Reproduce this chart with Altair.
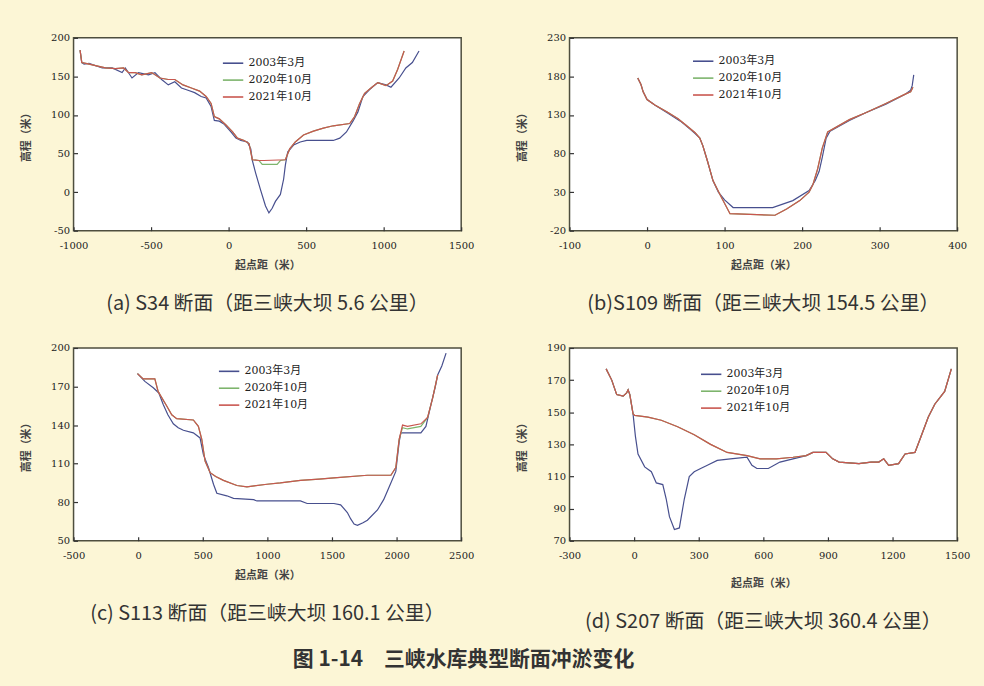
import altair as alt
import pandas as pd

SERIES = ["2003年3月", "2020年10月", "2021年10月"]
COLORS = ["#474f8e", "#7db46c", "#c9564f"]

# ---------------- (a) S34 ----------------
a03_x = [-958, -947, -932, -900, -815, -751, -687, -666, -623, -581, -517, -475, -432, -389, -347, -304,
         -262, -219, -177, -145, -113, -92, -60, -28, 15, 47, 79, 121, 143, 153, 174, 206, 238, 260, 281,
         302, 334, 355, 366, 381, 419, 462, 504, 675, 717, 760, 802, 834, 866, 909, 962, 1015, 1047,
         1100, 1143, 1185, 1228]
a03_y = [184, 168, 166, 167, 161, 161, 155, 161, 148, 155, 152, 155, 146, 139, 143, 135,
         132, 129, 124, 122, 111, 93, 92, 88, 78, 70, 67, 65, 56, 41, 25, 3, -18, -27, -21,
         -12, -3, 17, 35, 52, 61, 65, 67, 67, 70, 78, 92, 104, 124, 133, 142, 139, 136,
         148, 161, 168, 183]
a20_x = [-958, -947, -921, -858, -794, -730, -677, -645, -602, -560, -496, -443, -389, -347, -294, -240,
         -187, -145, -113, -92, -60, -17, 26, 57, 100, 132, 153, 196, 217, 313, 334, 366, 394, 430,
         483, 547, 611, 675, 781, 813, 845, 877, 930, 962, 1015, 1058, 1090, 1132]
a20_y = [184, 168, 167, 164, 161, 160, 161, 155, 155, 152, 155, 148, 146, 146, 139, 135,
         131, 124, 115, 98, 95, 87, 78, 70, 67, 63, 42, 41, 36, 36, 41, 42, 56, 65,
         74, 79, 83, 86, 89, 98, 115, 128, 137, 142, 138, 144, 159, 183]
a21_x = [-958, -947, -921, -858, -794, -730, -677, -645, -602, -560, -496, -443, -389, -347, -294, -240,
         -187, -145, -113, -92, -60, -17, 26, 57, 100, 132, 153, 196, 228, 366, 394, 430,
         483, 547, 611, 675, 781, 813, 845, 877, 930, 962, 1015, 1058, 1090, 1132]
a21_y = [184, 168, 167, 164, 161, 160, 161, 155, 155, 152, 155, 148, 146, 146, 139, 135,
         131, 124, 115, 98, 95, 87, 78, 70, 67, 63, 42, 41, 41, 42, 56, 65,
         74, 79, 83, 86, 89, 98, 115, 128, 137, 142, 138, 144, 159, 183]

# ---------------- (b) S109 ----------------
b03_x = [-12, -8, -5, 0, 10, 26, 43, 55, 62, 68, 72, 78, 85, 92, 100, 111, 162, 188, 209, 217, 222,
         226, 231, 236, 261, 282, 308, 333, 340, 342, 344]
b03_y = [178, 170, 160, 150, 143, 133, 122, 112, 106, 100, 90, 70, 45, 30, 20, 10, 10, 19, 32, 45, 57,
         75, 100, 109, 123, 133, 144, 157, 162, 168, 182]
b20_x = [-12, -8, -5, 0, 10, 26, 40, 50, 62, 68, 72, 78, 85, 95, 107, 165, 180, 197, 209, 214, 220,
         226, 233, 261, 282, 308, 333, 340, 343]
b20_y = [178, 170, 160, 150, 143, 134, 125, 117, 107, 100, 90, 70, 45, 25, 2, 0, 8, 19, 30, 40, 60,
         87, 108, 124, 133, 145, 157, 160, 166]
b21_x = [-12, -8, -5, 0, 10, 26, 40, 50, 62, 68, 72, 78, 85, 95, 107, 165, 180, 197, 209, 214, 220,
         226, 233, 261, 282, 308, 333, 340, 343]
b21_y = [178, 170, 160, 150, 143, 134, 125, 117, 107, 100, 90, 70, 45, 25, 2, 0, 8, 19, 30, 40, 60,
         87, 108, 124, 133, 145, 157, 160, 166]

# ---------------- (c) S113 ----------------
c03_x = [-5, 52, 117, 160, 194, 230, 272, 310, 350, 427, 479, 505, 544, 583, 609, 686, 738, 894, 920,
         1256, 1308, 1515, 1567, 1619, 1645, 1671, 1697, 1740, 1774, 1852, 1900, 1930, 1994, 2020,
         2033, 2188, 2227, 2266, 2300, 2318, 2350, 2383]
c03_y = [180, 174, 169, 165, 156, 148, 141, 138, 136, 134, 130, 117, 107, 94, 87, 85, 83, 82, 81,
         81, 79, 79, 78, 72, 67, 63, 62, 64, 66, 74, 82, 89, 104, 127,
         134, 134, 139, 156, 170, 179, 186, 196]
c20_x = [-5, 39, 129, 155, 220, 260, 298, 427, 466, 492, 518, 557, 600, 660, 764, 842, 997, 1100,
         1256, 1400, 1515, 1774, 1956, 1994, 2020, 2046, 2085, 2188, 2240, 2279, 2318]
c20_y = [180, 176, 176, 166, 155, 148, 145, 144, 139, 129, 112, 103, 100, 97, 93, 92, 94, 95,
         97, 98, 99, 101, 101, 107, 129, 138, 137, 139, 146, 161, 179]
c21_x = [-5, 39, 129, 155, 220, 260, 298, 427, 466, 492, 518, 557, 600, 660, 764, 842, 997, 1100,
         1256, 1400, 1515, 1774, 1956, 1994, 2020, 2046, 2085, 2188, 2240, 2279, 2318]
c21_y = [180, 176, 176, 166, 155, 148, 145, 144, 139, 129, 112, 103, 100, 97, 93, 92, 94, 95,
         97, 98, 99, 101, 101, 107, 129, 140, 139, 141, 146, 161, 179]

# ---------------- (d) S207 ----------------
d03_x = [-130, -104, -81, -51, -35, -28, -20, -5, 6, 18, 49, 80, 103, 133, 149, 164, 187, 210, 233,
         256, 279, 309, 340, 386, 447, 524, 547, 570, 623, 677, 738, 799, 830, 891, 922, 952, 1044,
         1100, 1136, 1159, 1182, 1228, 1258, 1304, 1327, 1366, 1396, 1442, 1473]
d03_y = [177, 170, 161, 160, 162, 164, 161, 149, 135, 124, 116, 113, 106, 105, 96, 85, 77, 78, 96,
         110, 113, 115, 117, 120, 121, 122, 117, 115, 115, 119, 121, 123, 125, 125, 121, 119, 118,
         119, 119, 121, 117, 118, 124, 125, 133, 147, 155, 163, 177]
d20_x = [-130, -104, -81, -51, -35, -28, -20, -5, 3, 64, 126, 202, 279, 355, 432, 524, 585, 661, 738,
         799, 830, 891, 922, 952, 1044, 1100, 1136, 1159, 1182, 1228, 1258, 1304, 1327, 1366, 1396,
         1442, 1473]
d20_y = [177, 170, 161, 160, 162, 164, 161, 149, 148, 147, 145, 141, 136, 130, 125, 123, 121, 121, 122,
         123, 125, 125, 121, 119, 118, 119, 119, 121, 117, 118, 124, 125, 133, 147, 155,
         163, 177]
d21_x = [-130, -104, -81, -51, -35, -28, -20, -5, 3, 64, 126, 202, 279, 355, 432, 524, 585, 661, 738,
         799, 830, 891, 922, 952, 1044, 1100, 1136, 1159, 1182, 1228, 1258, 1304, 1327, 1366, 1396,
         1442, 1473]
d21_y = [177, 170, 161, 160, 162, 164, 161, 149, 148, 147, 145, 141, 136, 130, 125, 123, 121, 121, 122,
         123, 125, 125, 121, 119, 118, 119, 119, 121, 117, 118, 124, 125, 133, 147, 155,
         163, 177]

CAPTIONS = [
    "(a) S34 断面（距三峡大坝 5.6 公里）",
    "(b)S109 断面（距三峡大坝 154.5 公里）",
    "(c) S113 断面（距三峡大坝 160.1 公里）",
    "(d) S207 断面（距三峡大坝 360.4 公里）",
]
MAIN_TITLE = "图 1-14　三峡水库典型断面冲淤变化"

SERIF = "DejaVu Serif, Liberation Serif, serif"
LEGEND_FONT = "DejaVu Serif, Noto Sans CJK SC"
SANS = "Noto Sans CJK SC"
W, H = 390, 194
HYPHEN_LABEL = "replace(datum.label, '\u2212', '-')"


def panel(series_xy, xdom, xticks, ydom, yticks, caption, lx, ly, xtpad):
    rows = []
    for name, (xs, ys) in zip(SERIES, series_xy):
        for i, (x, y) in enumerate(zip(xs, ys)):
            rows.append({"series": name, "x": x, "y": y, "i": i})
    df = pd.DataFrame(rows)
    return alt.Chart(df).mark_line(strokeWidth=1.2).encode(
        x=alt.X("x:Q", scale=alt.Scale(domain=xdom, nice=False, zero=False),
                axis=alt.Axis(values=xticks, title="起点距（米）", format="d",
                              labelExpr=HYPHEN_LABEL,
                              offset=-4, tickSize=4, labelPadding=10,
                              titlePadding=xtpad)),
        y=alt.Y("y:Q", scale=alt.Scale(domain=ydom, nice=False, zero=False),
                axis=alt.Axis(values=yticks, title="高程（米）", format="d",
                              labelExpr=HYPHEN_LABEL,
                              offset=-4, tickSize=4, labelPadding=4,
                              titleX=-46, titleY=H / 2)),
        color=alt.Color("series:N", scale=alt.Scale(domain=SERIES, range=COLORS),
                        legend=alt.Legend(title=None, orient="none", legendX=lx, legendY=ly,
                                          symbolType="stroke", symbolSize=420,
                                          symbolStrokeWidth=1.6, labelFont=LEGEND_FONT,
                                          labelFontSize=11, labelColor="#222",
                                          rowPadding=0, padding=0)),
        order="i:Q",
    ).properties(
        width=W, height=H,
        title=alt.TitleParams(caption, orient="bottom", font=SANS, fontSize=20,
                              fontWeight="normal", color="#333", offset=24),
    )


pa = panel([(a03_x, a03_y), (a20_x, a20_y), (a21_x, a21_y)], [-1000, 1500],
           [-1000, -500, 0, 500, 1000, 1500], [-50, 200], [-50, 0, 50, 100, 150, 200],
           CAPTIONS[0], 149, 14, 9)
pb = panel([(b03_x, b03_y), (b20_x, b20_y), (b21_x, b21_y)], [-100, 400],
           [-100, 0, 100, 200, 300, 400], [-20, 230], [-20, 30, 80, 130, 180, 230],
           CAPTIONS[1], 123, 12, 9)
pc = panel([(c03_x, c03_y), (c20_x, c20_y), (c21_x, c21_y)], [-500, 2500],
           [-500, 0, 500, 1000, 1500, 2000, 2500], [50, 200], [50, 80, 110, 140, 170, 200],
           CAPTIONS[2], 145, 12, 9)
pd_ = panel([(d03_x, d03_y), (d20_x, d20_y), (d21_x, d21_y)], [-300, 1500],
            [-300, 0, 300, 600, 900, 1200, 1500], [70, 190], [70, 90, 110, 130, 150, 170, 190],
            CAPTIONS[3], 131, 15, 17)

row1 = alt.hconcat(pa, pb, spacing=41).resolve_scale(color="independent").resolve_legend(color="independent")
row2 = alt.hconcat(pc, pd_, spacing=41).resolve_scale(color="independent").resolve_legend(color="independent")

chart = alt.vconcat(row1, row2, spacing=27).resolve_scale(
    color="independent"
).resolve_legend(
    color="independent"
).properties(
    title=alt.TitleParams(MAIN_TITLE, orient="bottom", font=SANS, fontSize=21,
                          fontWeight="bold", color="#333", offset=16, anchor="middle", dx=-32),
    padding={"top": 30, "left": 20, "right": 13, "bottom": 14},
    background="#fcf6d6",
).configure_view(
    fill="white", stroke="#4e4e3e", strokeWidth=1.5,
).configure_axis(
    domain=False, grid=False, tickColor="#333", tickWidth=1.2,
    labelFont=SERIF, labelFontSize=10, labelColor="#222",
    labelFlush=False, labelOverlap=False,
    titleFont=SANS, titleFontSize=11, titleFontWeight="bold", titleColor="#444",
)

chart.save("out.html", embed_options={"renderer": "svg", "actions": False})
